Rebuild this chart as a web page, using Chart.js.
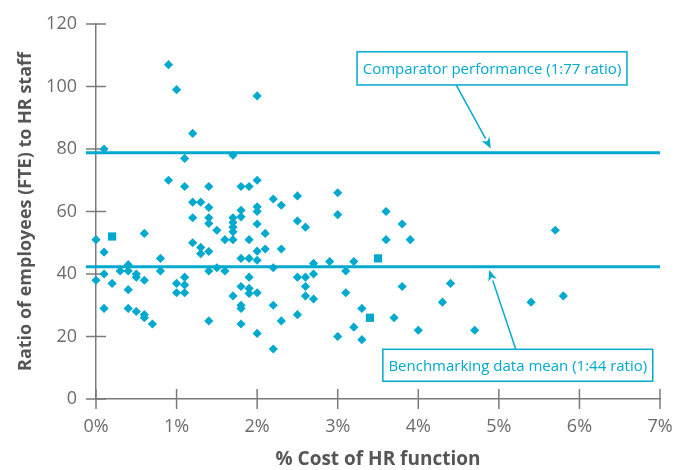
<!DOCTYPE html>
<html><head><meta charset="utf-8">
<script src="https://cdn.jsdelivr.net/npm/chart.js@4/dist/chart.umd.min.js"></script>
<style>html,body{margin:0;padding:0;background:#fff}#wrap{width:689px;height:470px}</style>
</head><body><div id="wrap"><canvas id="c" width="689" height="470"></canvas></div>
<script>
// ---- data ----
const costPct = [0.0,0.0,0.1,0.1,0.1,0.1,0.2,0.3,0.4,0.4,0.4,0.4,0.5,0.5,0.5,0.6,0.6,0.6,0.6,0.7,
  0.8,0.8,0.9,0.9,1.0,1.0,1.0,1.1,1.1,1.1,1.1,1.1,1.2,1.2,1.2,1.2,1.3,1.3,1.3,
  1.4,1.4,1.4,1.4,1.4,1.4,1.4,1.5,1.5,1.6,1.6,1.7,1.7,1.7,1.7,1.7,1.7,1.7,
  1.8,1.8,1.8,1.8,1.8,1.8,1.8,1.8,1.9,1.9,1.9,1.9,1.9,1.9,
  2.0,2.0,2.0,2.0,2.0,2.0,2.0,2.0,2.0,2.1,2.1,2.2,2.2,2.2,2.2,2.3,2.3,2.3,
  2.5,2.5,2.5,2.5,2.6,2.6,2.6,2.6,2.7,2.7,2.7,2.9,3.0,3.0,3.0,3.1,3.1,3.2,3.2,3.3,3.3,
  3.6,3.6,3.7,3.8,3.8,3.9,4.0,4.3,4.4,4.7,5.4,5.7,5.8];
const ratio = [51,38,80,47,40,29,37,41,43,41,35,29,40,39,28,53,38,27,26,24,
  45,41,107,70,99,37,34,77,68,39,36.5,34,85,63,58,50,63,48.5,46.5,
  68,61.3,58,56.2,47.2,41,25,54,42,51,41,78,58,56.5,55,53.5,51,33,
  68,60.4,58.3,45,36,30,29,24,68,51,45,39,35.4,33.8,
  97,70,61.5,60,56,47.3,44.4,34,21,53,48,64,42,30,16,62,48,25,
  65,57,39,27,55,39,36,33,43.4,40,32,44,66,59,20,41,34,44,23,29,19,
  60,51,26,56,36,51,22,31,37,22,31,54,33];
const highlightCost = [0.2, 3.4, 3.5];
const highlightRatio = [52, 26, 45];
const comparatorRatio = 78.8;
const benchmarkMean = 42.3;
const xTicks = [0,1,2,3,4,5,6,7];
const yTicks = [0,20,40,60,80,100,120];
const xTitle = '% Cost of HR function';
const yTitle = 'Ratio of employees (FTE) to HR staff';
const comparatorLabel = 'Comparator performance (1:77 ratio)';
const benchmarkLabel = 'Benchmarking data mean (1:44 ratio)';

// ---- style ----
const CYAN = '#00a9ce';
const AXIS = '#7a7a7a';
const TICKTXT = '#6b6b6b';
const TITLETXT = '#555555';
const FONT = "'Open Sans', 'Noto Sans', sans-serif";

const pts = costPct.map((x,i)=>({x, y: ratio[i]}));
const hpts = highlightCost.map((x,i)=>({x, y: highlightRatio[i]}));
const lineFrom = xTicks[0] - 0.125, lineTo = xTicks[xTicks.length-1];

const annotations = [
  {text: comparatorLabel, box:[3.24,6.59,100.5,111.1], from:[4.47,100.5], to:[4.9,80.2]},
  {text: benchmarkLabel, box:[3.56,6.91,5.7,15.9], from:[5.21,15.9], to:[4.88,41.3]}
];

const crossTicks = {
  id:'crossTicks',
  beforeDatasetsDraw(chart){
    const ctx=chart.ctx, xs=chart.scales.x, ys=chart.scales.y;
    ctx.save(); ctx.strokeStyle=AXIS; ctx.lineWidth=1.5;
    ys.ticks.forEach(t=>{const y=ys.getPixelForValue(t.value); ctx.beginPath(); ctx.moveTo(xs.left-10,y); ctx.lineTo(xs.left+10,y); ctx.stroke();});
    xs.ticks.forEach(t=>{const x=xs.getPixelForValue(t.value); ctx.beginPath(); ctx.moveTo(x,ys.bottom-10); ctx.lineTo(x,ys.bottom+10); ctx.stroke();});
    ctx.restore();
  }
};

const callouts = {
  id:'callouts',
  afterDatasetsDraw(chart){
    const ctx=chart.ctx, xs=chart.scales.x, ys=chart.scales.y;
    ctx.save();
    annotations.forEach(a=>{
      const x1=xs.getPixelForValue(a.box[0]), x2=xs.getPixelForValue(a.box[1]);
      const yb=ys.getPixelForValue(a.box[2]), yt=ys.getPixelForValue(a.box[3]);
      ctx.fillStyle='#fff'; ctx.fillRect(x1,yt,x2-x1,yb-yt);
      ctx.strokeStyle=CYAN; ctx.lineWidth=1.5; ctx.strokeRect(x1,yt,x2-x1,yb-yt);
      ctx.fillStyle=CYAN; ctx.font="15px "+FONT; ctx.textAlign='center'; ctx.textBaseline='middle';
      ctx.fillText(a.text,(x1+x2)/2,(yt+yb)/2+1);
      const fx=xs.getPixelForValue(a.from[0]), fy=ys.getPixelForValue(a.from[1]);
      const tx=xs.getPixelForValue(a.to[0]), ty=ys.getPixelForValue(a.to[1]);
      const ang=Math.atan2(ty-fy,tx-fx), L=11, W=4.5;
      const bx=tx-Math.cos(ang)*L, by=ty-Math.sin(ang)*L;
      ctx.beginPath(); ctx.moveTo(fx,fy); ctx.lineTo(bx,by); ctx.lineWidth=1.5; ctx.stroke();
      ctx.beginPath(); ctx.moveTo(tx,ty);
      ctx.lineTo(bx+Math.sin(ang)*W, by-Math.cos(ang)*W);
      ctx.lineTo(tx-Math.cos(ang)*L*0.7, ty-Math.sin(ang)*L*0.7);
      ctx.lineTo(bx-Math.sin(ang)*W, by+Math.cos(ang)*W);
      ctx.closePath(); ctx.fill();
    });
    ctx.restore();
  }
};

new Chart(document.getElementById('c'), {
  type:'scatter',
  data:{datasets:[
    {data:pts, pointStyle:'rectRot', pointRadius:4.6, pointHoverRadius:4.6, backgroundColor:CYAN, borderWidth:0, order:0, clip:false},
    {data:hpts, pointStyle:'rect', pointRadius:5.8, pointHoverRadius:5.8, backgroundColor:CYAN, borderWidth:0, order:0, clip:false},
    {type:'line', data:[{x:lineFrom,y:comparatorRatio},{x:lineTo,y:comparatorRatio}], borderColor:CYAN, borderWidth:3, pointRadius:0, order:1, clip:false},
    {type:'line', data:[{x:lineFrom,y:benchmarkMean},{x:lineTo,y:benchmarkMean}], borderColor:CYAN, borderWidth:3, pointRadius:0, order:1, clip:false}
  ]},
  options:{
    responsive:false, animation:false, devicePixelRatio:1,
    layout:{padding:{top:24,right:29,bottom:0,left:0}},
    plugins:{legend:{display:false}, tooltip:{enabled:false}},
    scales:{
      x:{type:'linear', min:xTicks[0], max:xTicks[xTicks.length-1],
        afterBuildTicks(s){ s.ticks = xTicks.map(v=>({value:v})); },
        ticks:{callback:v=>v+'%', font:{family:FONT,size:18}, color:TICKTXT, padding:17, maxRotation:0},
        grid:{display:true, drawOnChartArea:false, drawTicks:false},
        border:{display:true, color:AXIS, width:1.5},
        title:{display:true, text:xTitle, font:{family:FONT,size:19,weight:'bold'}, color:TITLETXT, padding:{top:0,bottom:-1}},
        afterFit(s){ s.height=71; s.paddingLeft=0; s.paddingRight=0; }
      },
      y:{type:'linear', min:yTicks[0], max:yTicks[yTicks.length-1],
        afterBuildTicks(s){ s.ticks = yTicks.map(v=>({value:v})); },
        ticks:{font:{family:FONT,size:18}, color:TICKTXT, padding:19},
        grid:{display:true, drawOnChartArea:false, drawTicks:false},
        border:{display:true, color:AXIS, width:1.5},
        title:{display:true, text:yTitle, font:{family:FONT,size:18,weight:'bold'}, color:TITLETXT, padding:{top:15,bottom:0}},
        afterFit(s){ s.width=96; s.paddingTop=0; s.paddingBottom=0; }
      }
    }
  },
  plugins:[crossTicks, callouts]
});
</script></body></html>
